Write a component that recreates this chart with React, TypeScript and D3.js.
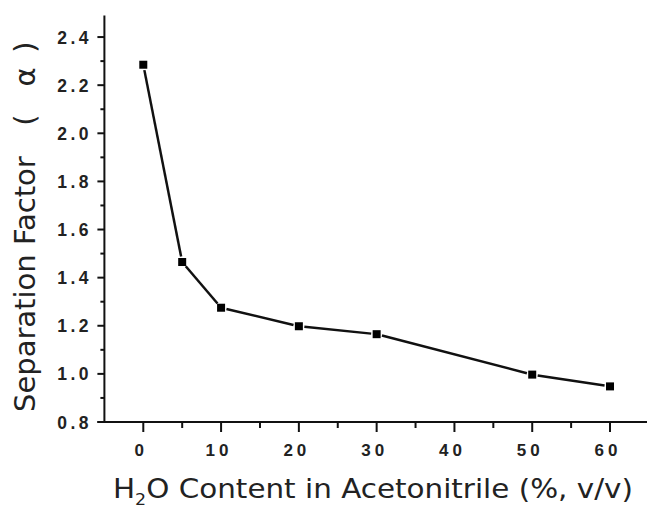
import { useEffect, useRef } from 'react';
import * as d3 from 'd3';

const waterContent = [0, 5, 10, 20, 30, 50, 60];
const separationFactor = [2.285, 1.465, 1.275, 1.198, 1.165, 0.997, 0.948];
const yMajorTicks = [0.8, 1.0, 1.2, 1.4, 1.6, 1.8, 2.0, 2.2, 2.4];
const yMinorTicks = [0.9, 1.1, 1.3, 1.5, 1.7, 1.9, 2.1, 2.3];
const xMajorTicks = [0, 10, 20, 30, 40, 50, 60];
const xMinorTicks = [5, 15, 25, 35, 45, 55];

export default function App() {
  const svgRef = useRef<SVGSVGElement>(null);

  useEffect(() => {
    if (!svgRef.current) return;
    const width = 647;
    const height = 513;
    const svg = d3.select(svgRef.current).attr('width', width).attr('height', height);
    svg.selectAll('*').remove();

    const x = d3.scaleLinear().domain([-5, 65]).range([104.4, 648.9]);
    const y = d3.scaleLinear().domain([0.8, 2.5]).range([422, 13]);
    const x0 = x(-5);
    const y0 = y(0.8);

    const axes = svg.append('g').attr('stroke', '#111').attr('stroke-width', 2).attr('fill', 'none');
    // axis lines
    axes.append('line').attr('x1', x0).attr('x2', x0).attr('y1', y(2.49)).attr('y2', y0 + 1);
    axes.append('line').attr('x1', x0 - 7).attr('x2', width).attr('y1', y0).attr('y2', y0);

    // y ticks
    axes.selectAll('.ymaj').data(yMajorTicks).enter().append('line')
      .attr('x1', x0 - 7).attr('x2', x0).attr('y1', (d) => y(d)).attr('y2', (d) => y(d));
    axes.selectAll('.ymin').data(yMinorTicks).enter().append('line')
      .attr('x1', x0 - 4).attr('x2', x0).attr('y1', (d) => y(d)).attr('y2', (d) => y(d));
    // x ticks
    axes.selectAll('.xmaj').data(xMajorTicks).enter().append('line')
      .attr('x1', (d) => x(d)).attr('x2', (d) => x(d)).attr('y1', y0).attr('y2', y0 + 10);
    axes.selectAll('.xmin').data(xMinorTicks).enter().append('line')
      .attr('x1', (d) => x(d)).attr('x2', (d) => x(d)).attr('y1', y0).attr('y2', y0 + 6);

    const tickFont = "'Liberation Sans', Arial, sans-serif";
    svg.selectAll('.ylab').data(yMajorTicks).enter().append('text')
      .attr('x', 92)
      .attr('y', (d) => y(d) + 6.5)
      .attr('text-anchor', 'end')
      .style('font-family', tickFont)
      .style('font-size', '17.5px')
      .style('font-weight', '700')
      .style('letter-spacing', '3.5px')
      .style('fill', '#222')
      .text((d) => d.toFixed(1));

    svg.selectAll('.xlab').data(xMajorTicks).enter().append('text')
      .attr('x', (d) => x(d) - 2)
      .attr('y', 456)
      .attr('text-anchor', 'middle')
      .style('font-family', tickFont)
      .style('font-size', '17px')
      .style('font-weight', '700')
      .style('letter-spacing', '4px')
      .style('fill', '#222')
      .text((d) => String(d));

    // data line, drawn as segments that stop short of the markers
    const pts = waterContent.map((d, i) => [x(d), y(separationFactor[i])] as [number, number]);
    const gap = 5.5;
    const segs = d3.pairs(pts).map(([a, b]) => {
      const dx = b[0] - a[0];
      const dy = b[1] - a[1];
      const len = Math.hypot(dx, dy);
      const ux = dx / len;
      const uy = dy / len;
      return [a[0] + ux * gap, a[1] + uy * gap, b[0] - ux * gap, b[1] - uy * gap];
    });
    svg.append('g').selectAll('line').data(segs).enter().append('line')
      .attr('x1', (d) => d[0]).attr('y1', (d) => d[1])
      .attr('x2', (d) => d[2]).attr('y2', (d) => d[3])
      .attr('stroke', '#111').attr('stroke-width', 2.5);

    svg.append('g').selectAll('rect').data(pts).enter().append('rect')
      .attr('x', (d) => d[0] - 4).attr('y', (d) => d[1] - 4)
      .attr('width', 8).attr('height', 8)
      .attr('fill', '#000');

    const titleFont = "'DejaVu Sans', Verdana, sans-serif";
    // y axis title
    const yt = svg.append('text')
      .attr('transform', 'rotate(-90)')
      .style('font-family', titleFont)
      .style('font-size', '29px')
      .style('fill', '#222');
    yt.append('tspan').attr('x', -412).attr('y', 35).text('Separation Factor');
    yt.append('tspan').attr('x', -120).attr('text-anchor', 'middle').text('(');
    yt.append('tspan').attr('x', -77).attr('text-anchor', 'middle').text('α');
    yt.append('tspan').attr('x', -47).attr('text-anchor', 'middle').text(')');

    // x axis title
    const xt = svg.append('text')
      .attr('x', 113)
      .attr('y', 498)
      .attr('textLength', 520)
      .attr('lengthAdjust', 'spacingAndGlyphs')
      .style('font-family', titleFont)
      .style('font-size', '27px')
      .style('fill', '#222');
    xt.append('tspan').text('H');
    xt.append('tspan').attr('dy', 7).style('font-size', '16px').text('2');
    xt.append('tspan').attr('dy', -7).text('O Content in Acetonitrile (%, v/v)');
  }, []);

  return (
    <div style={{ position: 'absolute', left: 0, top: 0, background: '#fff' }}>
      <svg ref={svgRef} style={{ display: 'block' }} />
    </div>
  );
}
